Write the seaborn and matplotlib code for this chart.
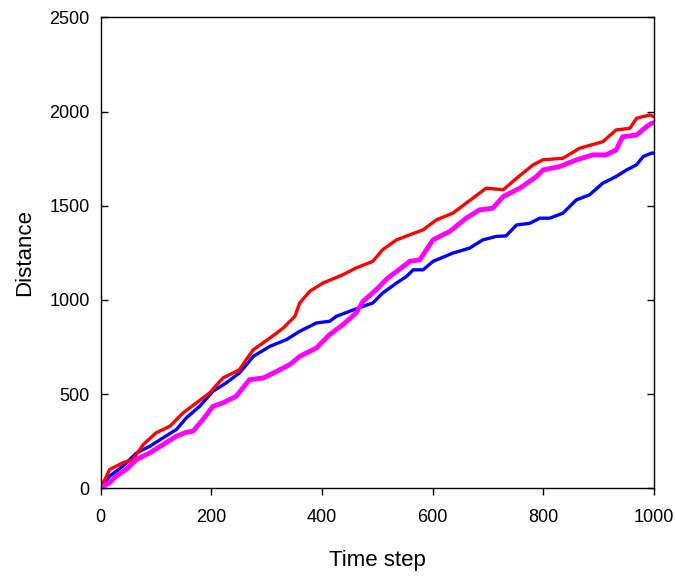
import numpy as np
import pandas as pd
import matplotlib
matplotlib.use("Agg")
import matplotlib.pyplot as plt
import seaborn as sns

sns.set_style("white")
plt.rcParams['font.family'] = ['Liberation Sans', 'DejaVu Sans']
plt.rcParams['text.color'] = 'black'
plt.rcParams['axes.labelcolor'] = 'black'

# values
blue_x = [0, 16, 40, 65, 89, 113, 137, 155, 179, 203, 227, 251, 276, 306, 336, 360, 390, 414,
          426, 450, 474, 492, 510, 535, 553, 565, 583, 601, 637, 667, 691, 715, 733, 752, 776,
          794, 812, 836, 860, 884, 908, 932, 951, 969, 981, 996, 1000]
blue_y = [0, 65, 118, 189, 224, 269, 313, 375, 436, 516, 560, 613, 701, 754, 790, 834, 878, 887,
          913, 940, 966, 984, 1037, 1090, 1125, 1160, 1160, 1205, 1249, 1275, 1319, 1337, 1340, 1398, 1407,
          1434, 1434, 1461, 1531, 1558, 1620, 1655, 1690, 1717, 1761, 1779, 1780]

red_x = [0, 16, 40, 58, 77, 100, 125, 149, 173, 197, 221, 251, 263, 276, 306, 330, 351, 360,
         378, 402, 438, 462, 492, 510, 535, 559, 583, 607, 637, 661, 697, 728, 752, 782, 800,
         836, 866, 908, 932, 957, 969, 993, 1000]
red_y = [0, 100, 136, 154, 233, 295, 330, 401, 454, 507, 586, 630, 683, 736, 798, 851, 913, 984,
         1046, 1090, 1134, 1170, 1205, 1267, 1319, 1346, 1372, 1425, 1461, 1514, 1593, 1585, 1646, 1717, 1744,
         1752, 1805, 1840, 1902, 1911, 1964, 1982, 1973]

magenta_x = [0, 4, 16, 28, 46, 65, 89, 113, 137, 155, 167, 185, 203, 221, 245, 269, 294, 318,
             342, 360, 390, 414, 438, 462, 474, 498, 510, 519, 535, 559, 577, 601, 631, 661, 685,
             709, 728, 758, 788, 800, 830, 860, 890, 914, 932, 944, 969, 987, 996, 1000]
magenta_y = [0, 12, 30, 65, 101, 154, 189, 233, 277, 298, 304, 366, 436, 454, 489, 577, 586, 621,
             657, 701, 745, 816, 869, 931, 992, 1054, 1090, 1116, 1151, 1205, 1213, 1319, 1363, 1434, 1478,
             1487, 1549, 1593, 1655, 1690, 1708, 1743, 1770, 1770, 1796, 1866, 1875, 1920, 1937, 1940]

xticks = [0, 200, 400, 600, 800, 1000]
yticks = [0, 500, 1000, 1500, 2000, 2500]

fig = plt.figure(figsize=(6.76, 5.76), dpi=100)
ax = fig.add_axes([0.149, 0.152, 0.818, 0.818])

sns.lineplot(x=blue_x, y=blue_y, color="#0000ff", lw=2.4, ax=ax, solid_capstyle="round")
sns.lineplot(x=red_x, y=red_y, color="#ff0000", lw=2.4, ax=ax, solid_capstyle="round")
sns.lineplot(x=magenta_x, y=magenta_y, color="#ff00ff", lw=3.5, ax=ax, solid_capstyle="round")

ax.set_xlim(0, 1000)
ax.set_ylim(0, 2500)
ax.set_xticks(xticks)
ax.set_yticks(yticks)

for s in ax.spines.values():
    s.set_color("black")
    s.set_linewidth(1.0)

ax.tick_params(axis="x", direction="out", length=5, width=1, colors="black",
               labelsize=13, pad=10, bottom=True, top=False)
ax.tick_params(axis="y", direction="in", length=5, width=1, colors="black",
               labelsize=13, pad=8, left=True, right=True)

ax.set_xlabel("Time step", fontsize=16, labelpad=17)
ax.set_ylabel("Distance", fontsize=16, labelpad=10)

fig.savefig("out.png", dpi=100)
